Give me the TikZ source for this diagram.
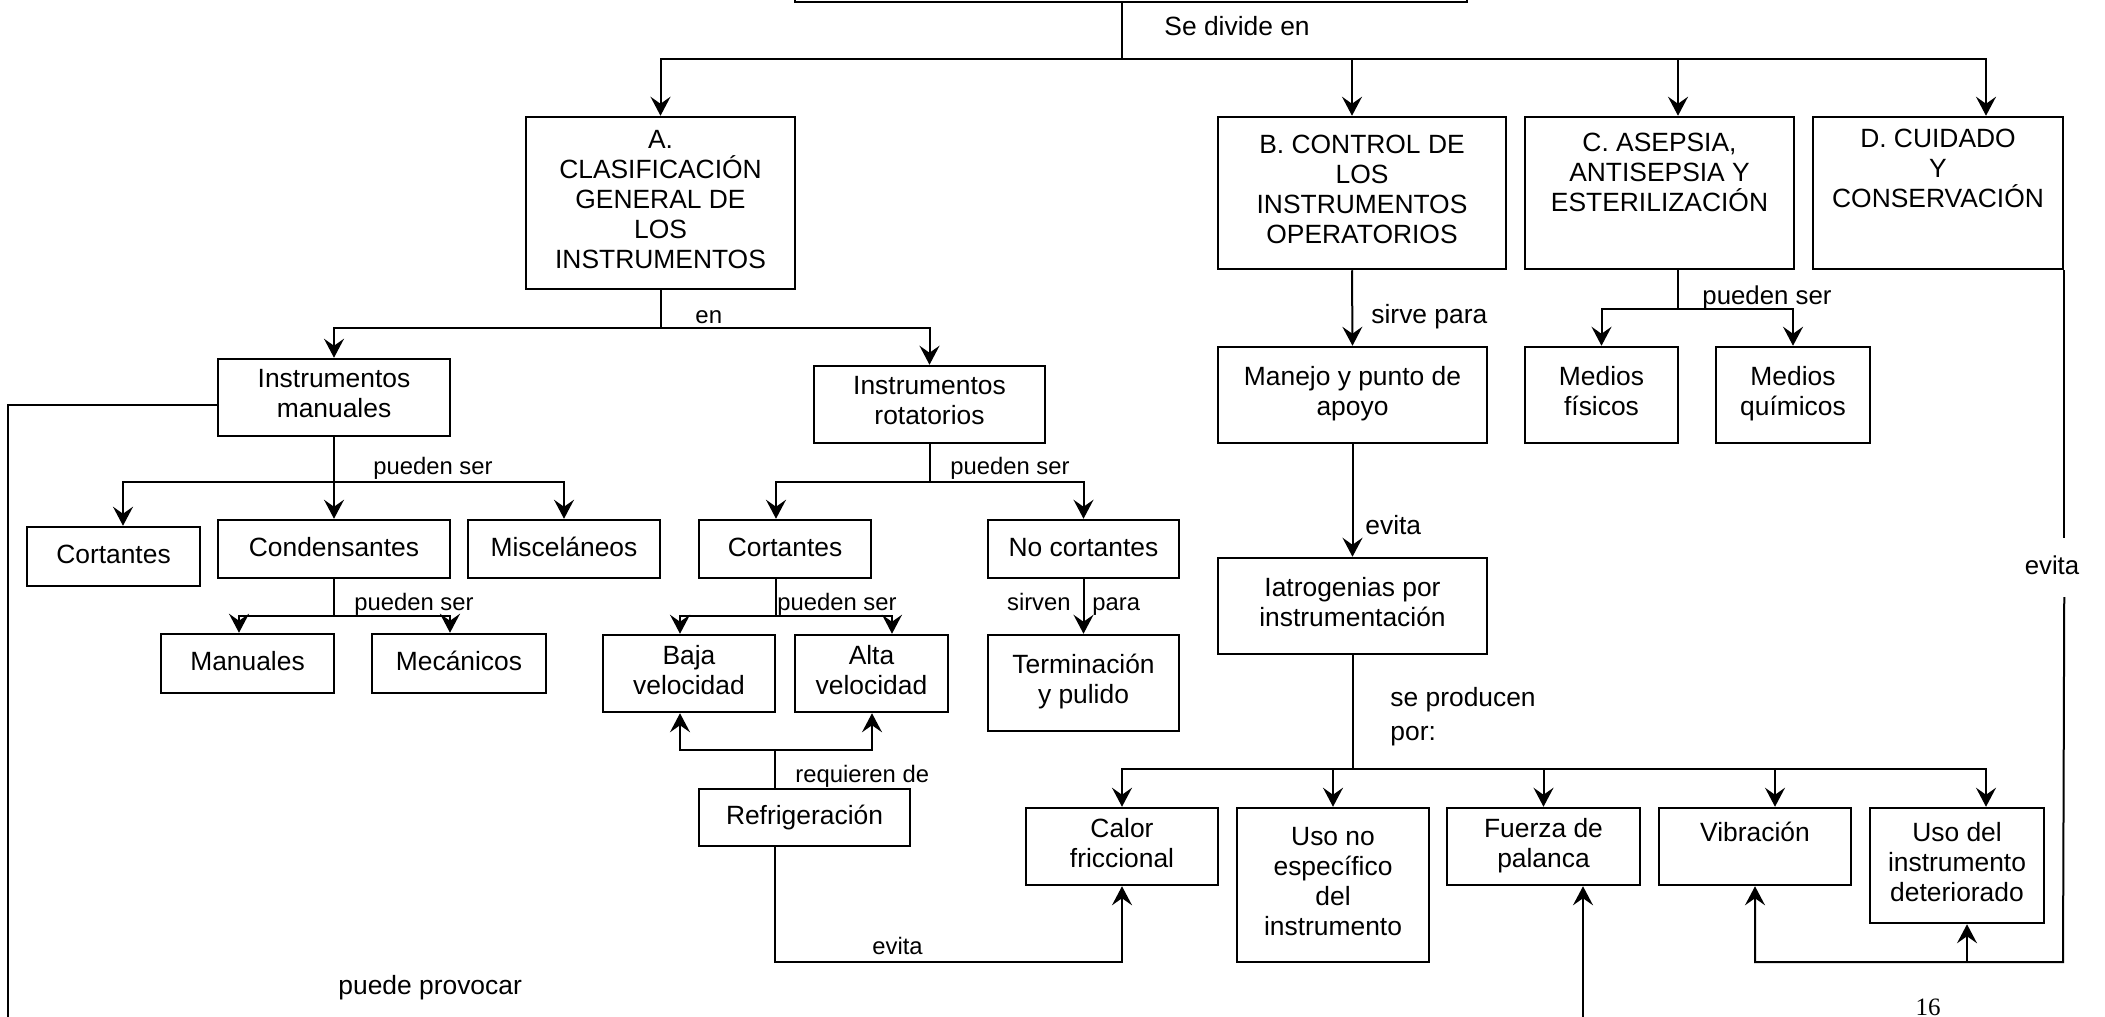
\documentclass[tikz,border=0pt]{standalone}
\usepackage{fontspec}
\setmainfont{Liberation Sans}
\newfontfamily\pagenumfont{Liberation Serif}
\usetikzlibrary{arrows.meta}
\newcommand\mystrut{\rule[-4pt]{0pt}{15pt}}
\newcommand\bigf{\fontsize{13.2}{15}\selectfont}
\newcommand\smallf{\fontsize{11.9}{14}\selectfont}
\newcommand\midf{\fontsize{12.9}{15}\selectfont}
\begin{document}
\begin{tikzpicture}[x=0.5pt,y=-0.5pt,
  box/.style={draw, line width=1.25pt, inner sep=0pt, align=center, font=\bigf,
    execute at begin node=\mystrut, execute at end node=\mystrut},
  lbl/.style={inner sep=0pt, font=\smallf, execute at begin node=\mystrut},
  biglbl/.style={lbl, font=\bigf},
  midlbl/.style={lbl, font=\midf},
  conn/.style={line width=1pt},
  arr/.style={conn, -{Stealth[length=9.5pt,width=10pt,inset=3.5pt]}},
]
\clip (0,0) rectangle (2105,1017);
\fill[white] (0,0) rectangle (2105,1017);

% ---------- boxes ----------
\node[box, minimum width=336pt, minimum height=16pt] (top) at (1131,-14) {};
\node[box, minimum width=134.5pt, minimum height=86pt] (A) at (660.5,203) {A.\\CLASIFICACIÓN\\GENERAL DE\\LOS\\INSTRUMENTOS};
\node[box, minimum width=144pt, minimum height=76pt] (B) at (1362,193) {B. CONTROL DE\\LOS\\INSTRUMENTOS\\OPERATORIOS};
\node[box, minimum width=134.5pt, minimum height=76pt] (C) at (1659.5,193) {C. ASEPSIA,\\ANTISEPSIA Y\\ESTERILIZACIÓN\\[2pt]};
\node[box, minimum width=125pt, minimum height=76pt] (D) at (1938,193) {D. CUIDADO\\Y\\CONSERVACIÓN\\[6pt]};

\node[box, minimum width=116pt, minimum height=38.5pt] (IM) at (334,397.5) {Instrumentos\\manuales};
\node[box, minimum width=115.5pt, minimum height=38.5pt] (IR) at (929.5,404.5) {Instrumentos\\rotatorios};
\node[box, minimum width=86.5pt, minimum height=29.5pt] (CortL) at (113.5,556.5) {Cortantes};
\node[box, minimum width=116pt, minimum height=29pt] (Cond) at (334,549) {Condensantes};
\node[box, minimum width=96pt, minimum height=29pt] (Misc) at (564,549) {Misceláneos};
\node[box, minimum width=86.5pt, minimum height=29.5pt] (Man) at (247.5,663.5) {Manuales};
\node[box, minimum width=87pt, minimum height=29.5pt] (Mec) at (459,663.5) {Mecánicos};
\node[box, minimum width=86pt, minimum height=29pt] (CortR) at (785,549) {Cortantes};
\node[box, minimum width=95.5pt, minimum height=29pt] (NoC) at (1083.5,549) {No cortantes};
\node[box, minimum width=86pt, minimum height=38.5pt] (Baja) at (689,673.5) {Baja\\velocidad};
\node[box, minimum width=76.5pt, minimum height=38.5pt] (Alta) at (871.5,673.5) {Alta\\velocidad};
\node[box, minimum width=95.5pt, minimum height=48pt] (Term) at (1083.5,683) {Terminación\\y pulido};
\node[box, minimum width=105.5pt, minimum height=28.5pt] (Refr) at (804.5,817.5) {Refrigeración};

\node[box, minimum width=134.5pt, minimum height=48pt] (Manejo) at (1352.5,395) {Manejo y punto de\\apoyo};
\node[box, minimum width=76.5pt, minimum height=48pt] (MF) at (1601.5,395) {Medios\\físicos};
\node[box, minimum width=77pt, minimum height=48pt] (MQ) at (1793,395) {Medios\\químicos};
\node[box, minimum width=134.5pt, minimum height=48pt] (Iatro) at (1352.5,606) {Iatrogenias por\\instrumentación};

\node[box, minimum width=96pt, minimum height=38.5pt] (Calor) at (1122,846.5) {Calor\\friccional};
\node[box, minimum width=96pt, minimum height=77pt] (UsoNo) at (1333,885) {Uso no\\específico\\del\\instrumento};
\node[box, minimum width=96.5pt, minimum height=38.5pt] (Fuerza) at (1543.5,846.5) {Fuerza de\\palanca};
\node[box, minimum width=96pt, minimum height=38.5pt] (Vib) at (1755,846.5) {Vibración\\[-4.5pt]};
\node[box, minimum width=87pt, minimum height=57.5pt] (UsoDel) at (1957,865.5) {Uso del\\instrumento\\deteriorado};

% ---------- labels ----------
\node[biglbl, anchor=west] (lSe) at (1164,28) {Se divide en};
\node[lbl, anchor=west, font=\fontsize{12}{14}\selectfont] (lEn) at (695,316) {en};
\node[lbl, anchor=west] (lP1) at (373,467) {pueden ser};
\node[lbl, anchor=west] (lP2) at (354,603) {pueden ser};
\node[lbl, anchor=west] (lP3) at (950,467) {pueden ser};
\node[lbl, anchor=west] (lP4) at (777,603) {pueden ser};
\node[lbl, anchor=east] (lSirven) at (1071,603) {sirven};
\node[lbl, anchor=west] (lPara) at (1092,603) {para};
\node[lbl, anchor=west] (lReq) at (795,775) {requieren de};
\node[lbl, anchor=west] (lEv1) at (872,947) {evita};
\node[biglbl, anchor=west] (lProv) at (338,987) {puede provocar};
\node[biglbl, anchor=west] (lSirve) at (1371,316) {sirve para};
\node[midlbl, anchor=west] (lP5) at (1702,297) {pueden ser};
\node[biglbl, anchor=west] (lEv2) at (1365,527) {evita};
\node[biglbl, anchor=west] (lSe2) at (1390,699) {se producen};
\node[biglbl, anchor=west] (lPor) at (1390,733) {por:};
\node[midlbl] (lEv3) at (2052,567) {evita};
\node[lbl, font=\pagenumfont\fontsize{12.5}{14}\selectfont] (pnum) at (1928,1008) {16};

% ---------- connectors ----------
\coordinate (j0) at (1121.5,59);
\draw[conn] (top.south -| j0) -- (j0);
\draw[arr] (j0) -| (A.north);
\draw[arr] (j0) -| (B.north -| 1352,0);
\draw[arr] (j0) -| (C.north -| 1678,0);
\draw[arr] (j0) -| (D.north -| 1986,0);

\coordinate (j1) at (660.5,328);
\draw[conn] (A.south) -- (j1);
\draw[arr] (j1) -| (IM.north);
\draw[arr] (j1) -| (IR.north);

\coordinate (leftend) at (8,1030);
\draw[conn] (IM.west |- 0,405) -- (8,405) -- (leftend);

\coordinate (j2) at (334,482);
\draw[conn] (IM.south) -- (j2);
\draw[arr] (j2) -| (CortL.north -| 123,0);
\draw[arr] (j2) -- (Cond.north);
\draw[arr] (j2) -| (Misc.north);

\coordinate (j3) at (334,616);
\draw[conn] (Cond.south) -- (j3);
\draw[arr] (j3) -| (Man.north -| 239,0);
\draw[arr] (j3) -| (Mec.north -| 450,0);

\coordinate (j4) at (929.5,482);
\draw[conn] (IR.south) -- (j4);
\draw[arr] (j4) -| (CortR.north -| 776,0);
\draw[arr] (j4) -| (NoC.north);

\coordinate (j5) at (776,616);
\draw[conn] (CortR.south -| j5) -- (j5);
\draw[arr] (j5) -| (Baja.north -| 680,0);
\draw[arr] (j5) -| (Alta.north -| 892,0);

\draw[arr] (NoC.south) -- (Term.north);

\coordinate (j6) at (775,750);
\draw[conn] (Refr.north -| j6) -- (j6);
\draw[arr] (j6) -| (Baja.south -| 680,0);
\draw[arr] (j6) -| (Alta.south -| 872,0);

\draw[arr] (Refr.south -| j6) -- (775,962) -| (Calor.south);

\draw[arr] (B.south -| 1352,0) -- (Manejo.north);

\coordinate (j7) at (1678,309);
\draw[conn] (C.south -| j7) -- (j7);
\draw[arr] (j7) -| (MF.north);
\draw[arr] (j7) -| (MQ.north);

\draw[arr] (Manejo.south) -- (Iatro.north);

\coordinate (j8) at (1352.5,769);
\draw[conn] (Iatro.south) -- (j8);
\draw[arr] (j8) -| (Calor.north);
\draw[arr] (j8) -| (UsoNo.north);
\draw[arr] (j8) -| (Fuerza.north);
\draw[arr] (j8) -| (Vib.north -| 1775,0);
\draw[arr] (j8) -| (UsoDel.north -| 1986,0);

\coordinate (j9) at (2063,962);
\draw[conn] (D.south east) -- (D.south east |- 0,538);
\draw[arr] (D.south east |- 0,597) -- (j9) -| (Vib.south);
\draw[arr] (j9 -| 1967,0) -- (UsoDel.south -| 1967,0);

\coordinate (fbot) at (1583,1030);
\draw[arr] (fbot) -- (Fuerza.south -| fbot);
\end{tikzpicture}
\end{document}
